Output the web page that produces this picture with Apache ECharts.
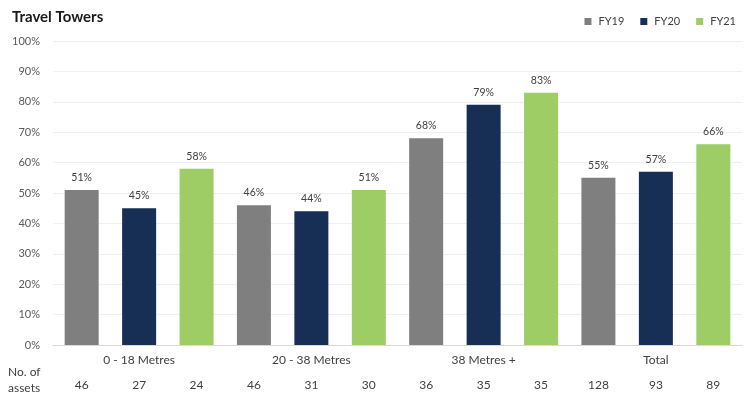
<!DOCTYPE html>
<html><head><meta charset="utf-8">
<script src="https://cdn.jsdelivr.net/npm/echarts@6/dist/echarts.min.js"></script>
<style>html,body{margin:0;padding:0;background:#fff}#c{width:748px;height:397px}</style>
</head><body><div id="c"></div>
<script>
const categories = ['0 - 18 Metres', '20 - 38 Metres', '38 Metres +', 'Total'];
const seriesNames = ['FY19', 'FY20', 'FY21'];
const fy19 = [51, 46, 68, 55];
const fy20 = [45, 44, 79, 57];
const fy21 = [58, 51, 83, 66];
const assetCounts = ['46', '27', '24', '46', '31', '30', '36', '35', '35', '128', '93', '89'];
const yTicks = [0, 10, 20, 30, 40, 50, 60, 70, 80, 90, 100];

const colors = ['#7f7f7f', '#172e55', '#9dcd64'];
const font = 'Lato, "Open Sans", sans-serif';
const chart = echarts.init(document.getElementById('c'), null, {renderer: 'canvas'});
const vals = [fy19, fy20, fy21];
chart.setOption({
  animation: false,
  textStyle: {fontFamily: font},
  title: {text: 'Travel Towers', left: 7, top: 5,
    textStyle: {fontSize: 15, fontWeight: 'bold', color: '#1a1a1a', fontFamily: font}},
  legend: {right: 7, top: 11, itemWidth: 7, itemHeight: 7, itemGap: 16,
    icon: 'rect', textStyle: {fontSize: 11, color: '#404040', fontFamily: font, padding: [0, 0, 0, 2]},
    data: seriesNames},
  grid: {left: 53, right: 6, top: 41, bottom: 52, containLabel: false},
  xAxis: [
    {type: 'category', data: categories, position: 'bottom',
     axisLine: {lineStyle: {color: '#d9d9d9'}}, axisTick: {show: false},
     axisLabel: {fontSize: 12, color: '#404040', margin: 9, fontFamily: font}},
    {type: 'category', data: assetCounts, position: 'bottom', offset: 31,
     axisLine: {show: false}, axisTick: {show: false},
     axisLabel: {fontSize: 12, color: '#404040', margin: 3, fontFamily: font}}
  ],
  yAxis: {type: 'value', min: yTicks[0], max: yTicks[yTicks.length - 1], interval: 10,
    axisLabel: {formatter: v => v + '%', fontSize: 11, color: '#595959', margin: 13, fontFamily: font},
    splitLine: {lineStyle: {color: '#efefef'}}, axisLine: {show: false}, axisTick: {show: false}},
  graphic: [
    {type: 'text', left: 8, top: 366, style: {text: 'No. of', fontSize: 12, fill: '#404040', fontFamily: font}},
    {type: 'text', left: 8, top: 382, style: {text: 'assets', fontSize: 12, fill: '#404040', fontFamily: font}}
  ],
  series: seriesNames.map((n, i) => ({
    name: n, type: 'bar', xAxisIndex: 0, data: vals[i], barWidth: 34, barGap: '69%',
    itemStyle: {color: colors[i]},
    label: {show: true, position: 'top', distance: 7, formatter: p => p.value + '%',
      fontSize: 10.5, color: '#404040', fontFamily: font}
  }))
});
</script></body></html>
